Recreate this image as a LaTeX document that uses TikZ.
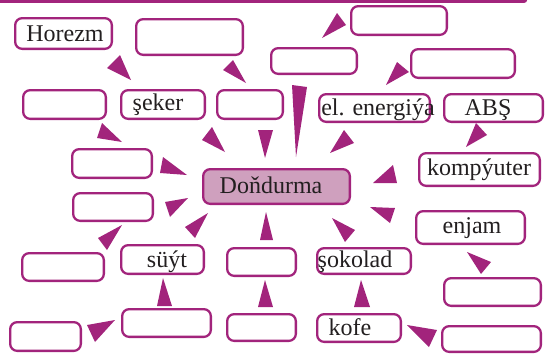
\documentclass[tikz,border=0pt]{standalone}
\usepackage{fontspec}
\setmainfont{Liberation Serif}
\usetikzlibrary{fit}
\definecolor{pc}{RGB}{162,36,124}
\definecolor{fillc}{RGB}{207,160,190}
\definecolor{txtc}{RGB}{35,31,32}
\newcommand\bx[5]{\node[box, fit={(#2+1.15,#3+1.15) (#4-1.15,#5-1.15)}] (#1) {};}
\newcommand\tri[3]{\fill[tipc] #1 -- #2 -- #3 -- cycle;}
\begin{document}
\begin{tikzpicture}[x=1pt,y=-1pt,
  box/.style={draw=pc, line width=2.3pt, rounded corners=7pt, fill=white, inner sep=0pt},
  lbl/.style={anchor=base, inner sep=0pt, font=\fontsize{24}{28}\selectfont, text=txtc},
  tipc/.style={fill=pc}]
\useasboundingbox (0,0) rectangle (548,354);
% top bar
\fill[pc] (0,0) -- (527,0) [rounded corners=2.5pt] -- (527,2.8) [sharp corners] -- (0,2.8) -- cycle;
% boxes
\bx{horezm}{14}{17}{113}{50}
\bx{b2}{135}{18}{244}{56}
\bx{b3}{350}{5}{448}{36}
\bx{b4}{270}{47}{358}{75}
\bx{b5}{410}{48}{516}{79}
\bx{b6}{22}{89}{107}{120}
\bx{seker}{120}{89}{206}{120}
\bx{b8}{216}{89}{284}{120}
\bx{elen}{318}{93}{431}{123}
\bx{abs}{443}{93}{544}{123}
\bx{b11}{71}{148}{153}{179}
\node[box, fill=fillc, fit={(202+1.15,168+1.15) (351-1.15,205-1.15)}] (dond) {};
\bx{komp}{418}{152}{541}{187}
\bx{b14}{72}{192}{154}{222}
\bx{enjam}{415}{210}{526}{245}
\bx{b16}{21}{252}{105}{282}
\bx{suyt}{120}{244}{205}{275}
\bx{b18}{226}{247}{297}{277}
\bx{sokolad}{316}{247}{412}{275}
\bx{b20}{443}{277}{542}{307}
\bx{b21}{9}{321}{82}{352}
\bx{b22}{121}{308}{212}{338}
\bx{b23}{226}{313}{297}{342}
\bx{kofe}{316}{313}{402}{343}
\bx{b25}{441}{325}{542}{353}
% labels
\node[lbl] (thorezm) at (65,41) {Horezm};
\node[lbl] (tseker) at (158,110) {şeker};
\node[lbl] (telen) at (378,115) {el. energiýa};
\node[lbl] (tabs) at (488,115) {ABŞ};
\node[lbl] (tkomp) at (479,175) {kompýuter};
\node[lbl] (tdond) at (271,193) {Doňdurma};
\node[lbl] (tenjam) at (472,233) {enjam};
\node[lbl] (tsuyt) at (167,267) {süýt};
\node[lbl] (tsok) at (355,267) {şokolad};
\node[lbl] (tkofe) at (350,335) {kofe};
% arrowheads
\tri{(131,80)}{(107,68)}{(120,55)}
\tri{(246,83)}{(223,70)}{(233,60)}
\tri{(122,142)}{(97,138)}{(102,123)}
\tri{(225,152)}{(202,140)}{(212,127)}
\tri{(265,158)}{(258,130)}{(273,130)}
\tri{(296,157)}{(292,85)}{(307,87)}
\tri{(330,153)}{(344,130)}{(354,143)}
\tri{(322,38)}{(337,13)}{(346,25)}
\tri{(386,85)}{(397,62)}{(409,72)}
\tri{(466,147)}{(476,123)}{(487,135)}
\tri{(373,183)}{(393,165)}{(397,183)}
\tri{(370,207)}{(395,208)}{(390,223)}
\tri{(332,218)}{(355,230)}{(345,242)}
\tri{(266,212)}{(260,240)}{(273,240)}
\tri{(208,213)}{(185,227)}{(195,238)}
\tri{(188,198)}{(165,202)}{(170,217)}
\tri{(187,175)}{(163,157)}{(160,173)}
\tri{(122,225)}{(98,238)}{(107,250)}
\tri{(163,278)}{(157,306)}{(172,306)}
\tri{(115,320)}{(87,325)}{(95,342)}
\tri{(265,280)}{(258,307)}{(273,307)}
\tri{(361,280)}{(354,307)}{(370,307)}
\tri{(407,325)}{(437,330)}{(429,347)}
\tri{(467,252)}{(491,262)}{(481,274)}
\end{tikzpicture}
\end{document}
